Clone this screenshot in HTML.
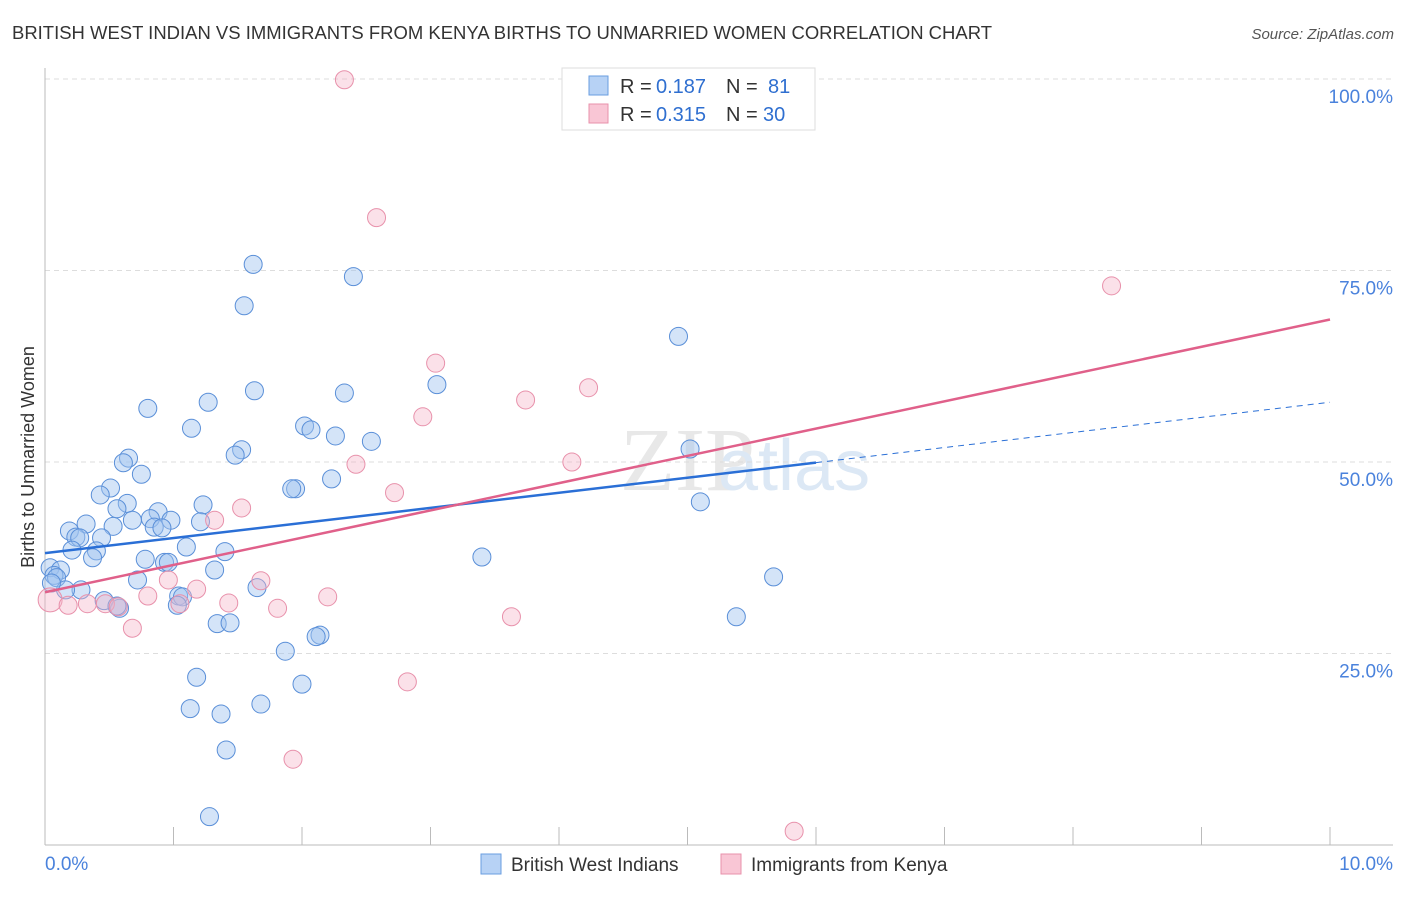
<!DOCTYPE html>
<html><head><meta charset="utf-8"><style>
body{margin:0;background:#fff;font-family:"Liberation Sans",sans-serif}
</style></head><body>
<svg width="1406" height="892" xmlns="http://www.w3.org/2000/svg" font-family="Liberation Sans, sans-serif">
<text x="12" y="39" font-size="18" fill="#333" textLength="980" lengthAdjust="spacingAndGlyphs">BRITISH WEST INDIAN VS IMMIGRANTS FROM KENYA BIRTHS TO UNMARRIED WOMEN CORRELATION CHART</text>
<text x="1394" y="39" font-size="15" fill="#555" text-anchor="end" font-style="italic">Source: ZipAtlas.com</text>
<text x="620" y="490" font-size="90" fill="#e8e8e8" font-family="Liberation Serif, serif">ZIP</text>
<text x="718" y="490" font-size="72" fill="#dce8f5">atlas</text>
<g id="grid"></g>
<g id="axes"></g>
<g id="marks"></g>
<text transform="translate(34,457) rotate(-90)" font-size="18" fill="#333" text-anchor="middle">Births to Unmarried Women</text>
<g>
<rect x="562" y="68" width="253" height="62" fill="#fff" stroke="#ddd"/>
<rect x="589" y="76" width="19" height="19" fill="#b7d2f5" stroke="#6a9ee0"/>
<rect x="589" y="104" width="19" height="19" fill="#f9c6d5" stroke="#e891ab"/>
<text x="620" y="93" font-size="20" fill="#333">R =</text>
<text x="656" y="93" font-size="20" fill="#2f6fd0">0.187</text>
<text x="726" y="93" font-size="20" fill="#333">N =</text>
<text x="768" y="93" font-size="20" fill="#2f6fd0">81</text>
<text x="620" y="121" font-size="20" fill="#333">R =</text>
<text x="656" y="121" font-size="20" fill="#2f6fd0">0.315</text>
<text x="726" y="121" font-size="20" fill="#333">N =</text>
<text x="763" y="121" font-size="20" fill="#2f6fd0">30</text>
</g>
<g>
<rect x="481" y="854" width="20" height="20" fill="#b7d2f5" stroke="#6a9ee0"/>
<text x="511" y="871" font-size="19" fill="#333">British West Indians</text>
<rect x="721" y="854" width="20" height="20" fill="#f9c6d5" stroke="#e891ab"/>
<text x="751" y="871" font-size="19" fill="#333">Immigrants from Kenya</text>
</g>
</svg>
<script>
const blueX=[1.62,2.40,1.55,4.93,1.63,1.27,0.80,3.05,2.33,1.14,2.02,2.07,2.26,2.54,1.53,1.48,0.65,0.61,0.75,5.02,1.95,1.92,2.23,0.51,0.43,0.64,0.56,1.23,5.10,0.88,0.82,0.98,1.21,0.68,0.32,0.19,0.53,0.24,0.27,0.44,0.85,0.91,1.10,0.21,0.40,0.37,0.78,0.93,0.96,1.40,3.40,0.04,0.12,0.07,0.09,1.32,0.72,5.67,0.28,0.16,1.65,1.04,1.07,1.03,0.46,0.58,0.56,1.34,1.44,5.38,2.14,2.11,1.87,1.18,2.00,1.13,1.37,1.68,1.41,1.28,0.05];
const blueY=[75.8,74.2,70.4,66.4,59.3,57.8,57.0,60.1,59.0,54.4,54.7,54.2,53.4,52.7,51.6,50.9,50.5,49.9,48.4,51.7,46.5,46.5,47.8,46.6,45.7,44.6,43.9,44.4,44.8,43.5,42.6,42.4,42.2,42.4,41.9,41.0,41.6,40.2,40.1,40.1,41.5,41.4,38.9,38.5,38.4,37.5,37.3,36.9,36.9,38.3,37.6,36.2,35.9,35.2,34.9,35.9,34.6,35.0,33.3,33.3,33.6,32.5,32.4,31.3,31.9,30.9,31.2,28.9,29.0,29.8,27.4,27.2,25.3,21.9,21.0,17.8,17.1,18.4,12.4,3.7,34.2];
const pinkX=[2.33,2.58,8.30,3.04,4.23,3.74,2.94,2.42,4.10,2.72,1.53,1.32,0.96,1.68,1.18,0.80,2.20,0.04,0.18,0.33,0.47,1.43,1.81,0.57,1.05,0.68,3.63,2.82,1.93,5.83];
const pinkY=[99.9,81.9,73.0,62.9,59.7,58.1,55.9,49.7,50.0,46.0,44.0,42.4,34.6,34.5,33.4,32.5,32.4,32.0,31.3,31.5,31.5,31.6,30.9,31.1,31.5,28.3,29.8,21.3,11.2,1.8];
const blueTrend=[38.1,57.8];
const pinkTrend=[33.0,68.6];
const yTicks=[25,50,75,100];
const xTicks=[0,1,2,3,4,5,6,7,8,9,10];
const NS="http://www.w3.org/2000/svg";
const sx=v=>45+v*128.5, sy=v=>845-v*7.66;
function mk(t,a,p){const e=document.createElementNS(NS,t);for(const k in a)e.setAttribute(k,a[k]);document.getElementById(p).appendChild(e);return e;}
yTicks.forEach(t=>{
 const g=mk('line',{x1:45,x2:1393,y1:sy(t),y2:sy(t),stroke:'#ddd','stroke-dasharray':'5,4'},'grid');
 
 
 const l=mk('text',{x:1393,y:sy(t)+24,'font-size':19,fill:'#4a82dc','text-anchor':'end'},'grid');
 l.textContent=t.toFixed(1)+'%';
 
 
});
mk('line',{x1:45,x2:45,y1:68,y2:845,stroke:'#bbb'},'axes');
mk('line',{x1:45,x2:1393,y1:845,y2:845,stroke:'#bbb'},'axes');
xTicks.forEach(t=>{
 const tk=mk('line',{x1:sx(t),x2:sx(t),y1:827,y2:845,stroke:'#bbb'},'axes');
 
 
});
[[0,'0.0%','start',45],[10,'10.0%','end',1393]].forEach(a=>{
 const l=mk('text',{x:a[3],y:870,'font-size':19,fill:'#4a82dc','text-anchor':a[2]},'axes');
 l.textContent=a[1];
 
 
});
blueX.forEach((x,i)=>{
 const c=mk('circle',{cx:sx(x),cy:sy(blueY[i]),r:9,fill:'rgba(160,196,240,0.45)',stroke:'#5a8fd8','stroke-width':1},'marks');
 
 
});
pinkX.forEach((x,i)=>{
 const c=mk('circle',{cx:sx(x),cy:sy(pinkY[i]),r:i==17?12:9,fill:'rgba(245,180,200,0.4)',stroke:'#e891ab','stroke-width':1},'marks');
 
 
});
const bAt=x=>blueTrend[0]+(blueTrend[1]-blueTrend[0])*x/10;
const b1=mk('line',{x1:sx(0),y1:sy(bAt(0)),x2:sx(6),y2:sy(bAt(6)),stroke:'#2a6fd6','stroke-width':2.5},'marks');


const b2=mk('line',{x1:sx(6),y1:sy(bAt(6)),x2:sx(10),y2:sy(bAt(10)),stroke:'#2a6fd6','stroke-width':1,'stroke-dasharray':'6,5'},'marks');


const p1=mk('line',{x1:sx(0),y1:sy(pinkTrend[0]),x2:sx(10),y2:sy(pinkTrend[1]),stroke:'#e0608a','stroke-width':2.5},'marks');


</script>
</body></html>
